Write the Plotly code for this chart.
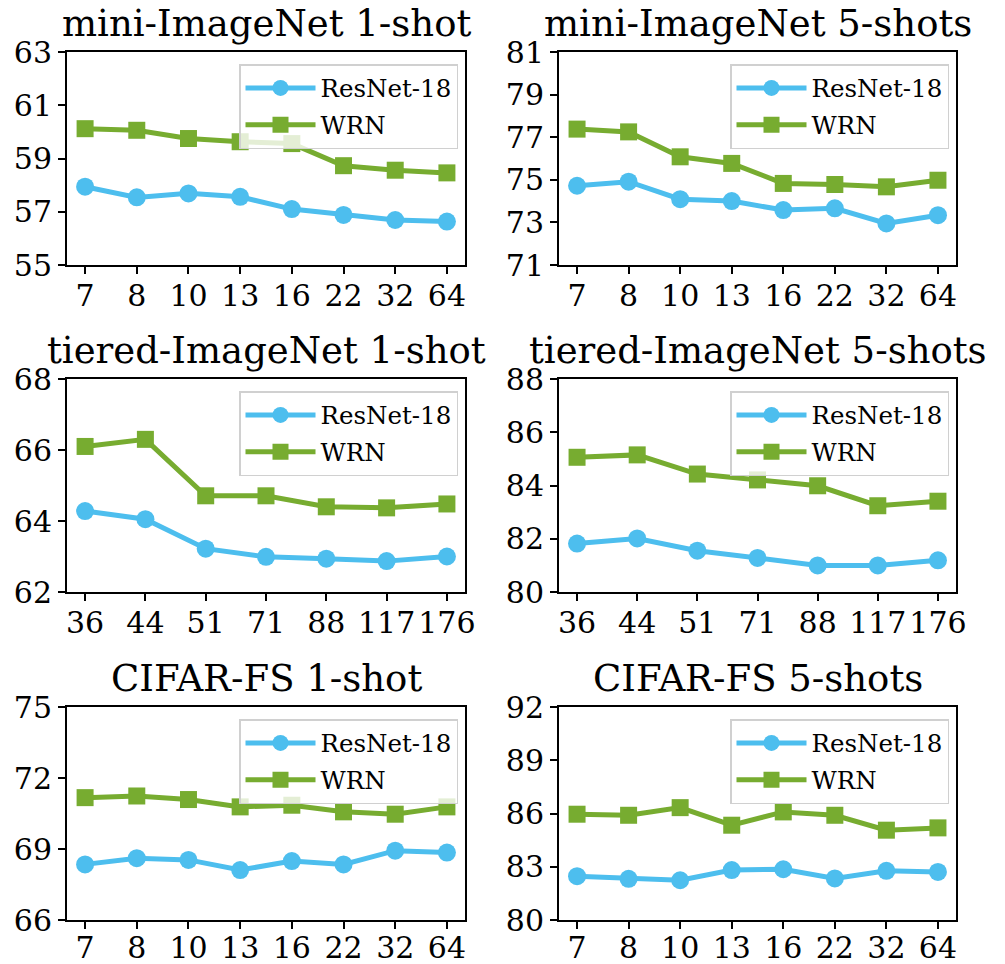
import plotly.graph_objects as go

# ---------------- data ----------------
ways_main = ["7", "8", "10", "13", "16", "22", "32", "64"]
ways_tiered = ["36", "44", "51", "71", "88", "117", "176"]

mini1_resnet = [57.94, 57.54, 57.69, 57.56, 57.10, 56.88, 56.69, 56.63]
mini1_wrn = [60.12, 60.06, 59.75, 59.63, 59.56, 58.73, 58.56, 58.46]

mini5_resnet = [74.72, 74.91, 74.09, 74.00, 73.58, 73.66, 72.95, 73.34]
mini5_wrn = [77.38, 77.25, 76.08, 75.77, 74.83, 74.78, 74.67, 74.98]

tiered1_resnet = [64.28, 64.05, 63.22, 62.99, 62.94, 62.87, 63.00]
tiered1_wrn = [66.10, 66.30, 64.71, 64.71, 64.40, 64.37, 64.48]

tiered5_resnet = [81.82, 82.01, 81.55, 81.28, 81.00, 81.00, 81.19]
tiered5_wrn = [85.06, 85.15, 84.43, 84.21, 83.99, 83.24, 83.41]

cifar1_resnet = [68.35, 68.61, 68.54, 68.11, 68.49, 68.35, 68.93, 68.85]
cifar1_wrn = [71.17, 71.24, 71.09, 70.78, 70.85, 70.57, 70.47, 70.78]

cifar5_resnet = [82.47, 82.32, 82.24, 82.81, 82.86, 82.34, 82.77, 82.71]
cifar5_wrn = [85.96, 85.90, 86.33, 85.34, 86.09, 85.90, 85.06, 85.19]

titles = ["mini-ImageNet 1-shot", "mini-ImageNet 5-shots",
          "tiered-ImageNet 1-shot", "tiered-ImageNet 5-shots",
          "CIFAR-FS 1-shot", "CIFAR-FS 5-shots"]
y_ticks = [[55, 57, 59, 61, 63], [71, 73, 75, 77, 79, 81],
           [62, 64, 66, 68], [80, 82, 84, 86, 88],
           [66, 69, 72, 75], [80, 83, 86, 89, 92]]
series_names = ["ResNet-18", "WRN"]

panels = [
    (ways_main, mini1_resnet, mini1_wrn),
    (ways_main, mini5_resnet, mini5_wrn),
    (ways_tiered, tiered1_resnet, tiered1_wrn),
    (ways_tiered, tiered5_resnet, tiered5_wrn),
    (ways_main, cifar1_resnet, cifar1_wrn),
    (ways_main, cifar5_resnet, cifar5_wrn),
]

# ---------------- style / layout ----------------
W, H = 1005, 964
BLUE = "#4DBEEE"
GREEN = "#77AC30"
FONT = "DejaVu Serif"

col_px = [(67, 465), (559, 956)]
row_px = [(52, 265), (379, 592), (707, 920)]
label_standoff = [-4, -4, -7]

fig = go.Figure()
layout = dict(
    width=W, height=H,
    margin=dict(l=0, r=0, t=0, b=0),
    paper_bgcolor="white", plot_bgcolor="white",
    font=dict(family=FONT, color="black", size=30),
    annotations=[],
)

for i, (cats, res, wrn) in enumerate(panels):
    r, c = divmod(i, 2)
    x0, x1 = col_px[c]
    y0, y1 = row_px[r]
    xa = "xaxis" if i == 0 else f"xaxis{i+1}"
    ya = "yaxis" if i == 0 else f"yaxis{i+1}"
    xref = "x" if i == 0 else f"x{i+1}"
    yref = "y" if i == 0 else f"y{i+1}"
    lg = "legend" if i == 0 else f"legend{i+1}"

    fig.add_trace(go.Scatter(
        x=cats, y=res, name=series_names[0], mode="lines+markers",
        xaxis=xref, yaxis=yref, legend=lg, legendgroup=f"a{i}",
        line=dict(color=BLUE, width=5),
        marker=dict(symbol="circle", size=18, color=BLUE),
    ))
    fig.add_trace(go.Scatter(
        x=cats, y=wrn, name=series_names[1], mode="lines+markers",
        xaxis=xref, yaxis=yref, legend=lg, legendgroup=f"b{i}",
        line=dict(color=GREEN, width=5),
        marker=dict(symbol="square", size=17, color=GREEN),
    ))

    n = len(cats)
    pad = 0.05 * (n - 1)
    yt = y_ticks[i]
    layout[xa] = dict(
        domain=[x0 / W, x1 / W], anchor=yref, type="category",
        categoryorder="array", categoryarray=cats,
        range=[-pad, n - 1 + pad],
        showline=True, mirror=True, linecolor="black", linewidth=2,
        ticks="outside", ticklen=7, tickwidth=2, tickcolor="black",
        showgrid=False, zeroline=False, automargin=False,
        ticklabelstandoff=label_standoff[r],
        tickfont=dict(family=FONT, size=30, color="black"),
    )
    layout[ya] = dict(
        domain=[1 - y1 / H, 1 - y0 / H], anchor=xref,
        range=[yt[0], yt[-1]], tickmode="array", tickvals=yt,
        ticktext=[str(v) for v in yt],
        showline=True, mirror=True, linecolor="black", linewidth=2,
        ticks="outside", ticklen=7, tickwidth=2, tickcolor="black",
        showgrid=False, zeroline=False, automargin=False,
        tickfont=dict(family=FONT, size=30, color="black"),
    )
    layout[lg] = dict(
        x=(x1 - 7) / W, y=1 - (y0 + 12) / H,
        xanchor="right", yanchor="top",
        bgcolor="rgba(255,255,255,0.8)",
        bordercolor="#d0d0d0", borderwidth=1.5,
        font=dict(family=FONT, size=24.5, color="black"),
        tracegroupgap=2, itemwidth=70,
    )
    layout["annotations"].append(dict(
        text=titles[i], xref="paper", yref="paper",
        x=(x0 + x1) / 2 / W, y=1 - (y0 - 5) / H,
        xanchor="center", yanchor="bottom", showarrow=False,
        font=dict(family=FONT, size=37, color="black"),
    ))

fig.update_layout(**layout)
fig.write_html("out.html")
